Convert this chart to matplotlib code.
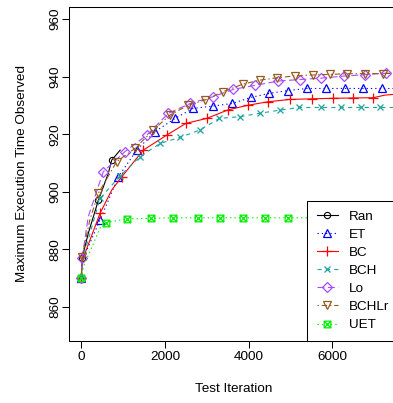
import matplotlib
matplotlib.use("Agg")
import matplotlib.pyplot as plt
from matplotlib.path import Path

plt.rcParams['font.family'] = ['Liberation Sans', 'DejaVu Sans']
plt.rcParams['lines.scale_dashes'] = False

# values
ran_x = [0, 20, 167, 407, 646, 727, 930]
ran_y = [870, 877, 885.6, 897, 906.4, 911, 914.5]

et_x = [0, 20, 447, 885, 1325, 1763, 2241, 2679, 3157, 3612, 4059, 4497, 4951, 5406, 5853, 6307, 6745, 7200, 7600]
et_y = [870, 876, 890.2, 905.2, 914.5, 920.9, 925.5, 929.0, 929.8, 930.7, 932.8, 934.2, 935.2, 935.9, 935.9, 935.9, 935.9, 935.9, 935.9]

bc_x = [0, 20, 447, 727, 966, 1483, 2043, 2504, 3000, 3516, 3995, 4473, 4992, 5511, 6013, 6506, 6985, 7264, 7600]
bc_y = [870, 876, 892.5, 900.6, 905.2, 914.5, 919.7, 923.8, 925.5, 928.5, 930.1, 931.3, 932.1, 932.3, 932.5, 932.6, 932.7, 933.6, 934.0]

bch_x = [0, 20, 447, 926, 1404, 1883, 2361, 2839, 3301, 3796, 4274, 4753, 5215, 5731, 6210, 6690, 7145, 7600]
bch_y = [870, 876, 897.7, 905.5, 912.2, 916.8, 918.9, 921.5, 925.5, 926.1, 927.3, 928.4, 929.3, 929.3, 929.3, 929.3, 929.3, 929.3]

lo_x = [0, 20, 167, 526, 1046, 1566, 2086, 2606, 3140, 3640, 4160, 4712, 5231, 5740, 6290, 6780, 7300, 7600]
lo_y = [870, 877, 891.4, 907, 914, 919.7, 927.3, 930.7, 933, 935.6, 937, 938.5, 939, 939.5, 940.2, 940.7, 941.2, 941.2]

bchlr_x = [0, 20, 200, 407, 847, 1285, 1722, 2122, 2559, 2959, 3397, 3861, 4275, 4675, 5112, 5535, 5949, 6348, 6787, 7224, 7600]
bchlr_y = [870, 877.5, 890, 899.5, 910.5, 915.1, 921.5, 926.7, 930.1, 931.9, 934.8, 937.4, 938.8, 939.6, 940.3, 940.6, 940.8, 941.0, 941.1, 941.1, 941.2]

uet_x = [0, 50, 480, 580, 1092, 1673, 2198, 2796, 3321, 3864, 4405, 4955, 5500, 6050, 6600, 7150, 7600]
uet_y = [870, 874, 888.5, 889.3, 890.6, 890.8, 891, 891, 891, 891, 891, 891, 891, 891, 891, 891, 891]

# square with a cross (R pch 7)
sqx = Path([(-1, -1), (1, -1), (1, 1), (-1, 1), (-1, -1), (-1, -1), (1, 1), (-1, 1), (1, -1)],
           [Path.MOVETO, Path.LINETO, Path.LINETO, Path.LINETO, Path.CLOSEPOLY,
            Path.MOVETO, Path.LINETO, Path.MOVETO, Path.LINETO])

fig = plt.figure(figsize=(3.93, 4.03), dpi=100)
ax = fig.add_axes([69/393, (403-341)/403, (399-69)/393, (341-7)/403])

lw = 0.8
ax.plot(ran_x, ran_y, color='black', lw=lw, marker='o', ms=4.5, mfc='none', mew=0.8,
        markevery=[1, 3, 5], label='Ran')
ax.plot(et_x, et_y, color='#0000FF', lw=lw, ls=(0, (0.9, 2.2)), marker='^', ms=5.8, mfc='none', mew=0.9,
        markevery=[0] + list(range(2, 18)), label='ET')
ax.plot(bc_x, bc_y, color='#FF0000', lw=lw, marker='+', ms=7.5, mew=0.9,
        markevery=[0, 2] + list(range(4, 17)), label='BC')
ax.plot(bch_x, bch_y, color='#1FA3A0', lw=lw, ls=(0, (3, 3)), marker='x', ms=5, mew=0.9,
        markevery=[0] + list(range(2, 17)), label='BCH')
ax.plot(lo_x, lo_y, color='#A94BFF', lw=lw, ls=(0, (5, 2.5)), marker='D', ms=5, mfc='none', mew=0.9,
        markevery=[0, 1] + list(range(3, 17)), label='Lo')
ax.plot(bchlr_x, bchlr_y, color='#975A1E', lw=lw, ls=(0, (1, 2, 4, 2)), marker='v', ms=5.8, mfc='none', mew=0.9,
        markevery=[1] + list(range(3, 20)), label='BCHLr')
ax.plot(uet_x, uet_y, color='#00EE00', lw=lw, ls=(0, (1, 2.2)), marker=sqx, ms=4.8, mfc='none', mew=0.9,
        markevery=[0] + list(range(3, 16)), label='UET')

ax.set_xlim(-294, 7600)
ax.set_ylim(848.2, 964.2)
ax.set_xticks([0, 2000, 4000, 6000])
ax.set_yticks([860, 880, 900, 920, 940, 960])
ax.tick_params(direction='out', length=4.7, width=0.75, labelsize=9.7, colors='black')
ax.tick_params(axis='x', pad=2.5)
ax.tick_params(axis='y', pad=0.8)
for lab in ax.get_yticklabels():
    lab.set_rotation(90)
    lab.set_va('center')
for s in ax.spines.values():
    s.set_linewidth(0.75)

fig.text(22/393, 1-174/403, 'Maximum Execution Time Observed', rotation=90,
         ha='center', va='center', fontsize=9.7)
fig.text(234/393, 1-389/403, 'Test Iteration', ha='center', va='center', fontsize=9.7)

leg = ax.legend(loc='lower right', borderaxespad=0, fancybox=False, fontsize=9.7,
                handlelength=1.6, handletextpad=0.8, borderpad=0.72, labelspacing=0.42,
                framealpha=1, edgecolor='black')
leg.get_frame().set_linewidth(0.75)

fig.savefig('out.png', dpi=100)
